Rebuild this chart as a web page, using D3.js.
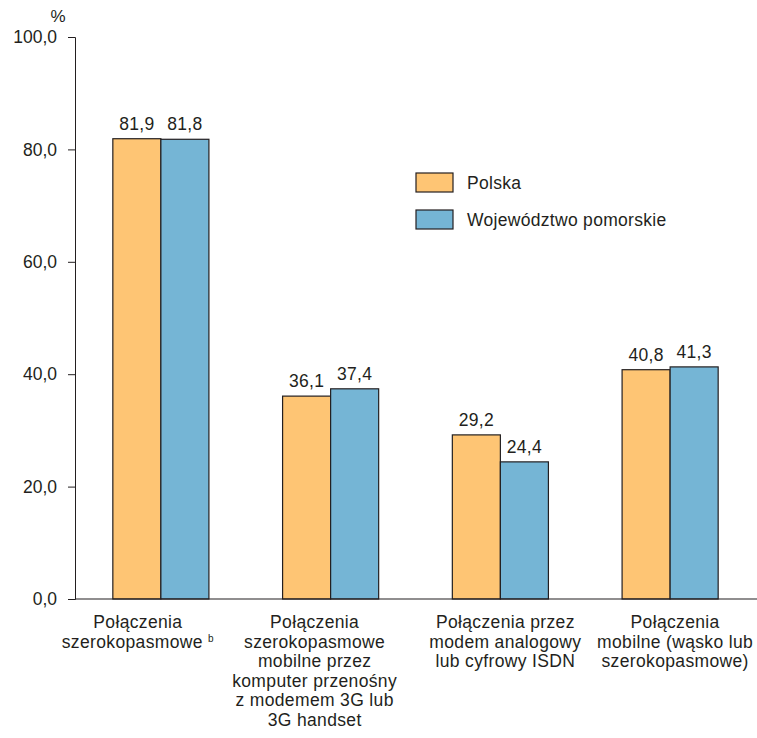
<!DOCTYPE html>
<html>
<head>
<meta charset="utf-8">
<script src="https://cdn.jsdelivr.net/npm/d3@7"></script>
<style>
  body { margin: 0; background: #fff; }
  text { font-family: "Liberation Sans", Arial, sans-serif; fill: #231f20; }
</style>
</head>
<body>
<svg width="757" height="738"></svg>
<script>
// categories (lines of each x label)
const categories = ["szerokopasmowe", "mobilne3G", "modem", "mobilne"];
const categoryLines = [
    ["Połączenia", "szerokopasmowe"],
    ["Połączenia", "szerokopasmowe", "mobilne przez", "komputer przenośny", "z modemem 3G lub", "3G handset"],
    ["Połączenia przez", "modem analogowy", "lub cyfrowy ISDN"],
    ["Połączenia", "mobilne (wąsko lub", "szerokopasmowe)"]
];
const seriesNames = ["Polska", "Województwo pomorskie"];
const polska = [81.9, 36.1, 29.2, 40.8];
const pomorskie = [81.8, 37.4, 24.4, 41.3];
const yTicks = [0, 20, 40, 60, 80, 100];

const colors = ["#fec574", "#75b5d5"];
const labelShift = [-23, -16, 5, 5]; // labels are not centred on the bars in the original

const svg = d3.select("svg");

const xScale = d3.scaleBand()
    .domain(categories)
    .range([76, 755])
    .paddingInner(0.434)
    .paddingOuter(0.217);

const xInner = d3.scaleBand()
    .domain(seriesNames)
    .range([0, xScale.bandwidth()]);

const yScale = d3.scaleLinear()
    .domain([0, 100])
    .range([599, 37]);

const fmt = v => d3.format(".1f")(v).replace(".", ",");

// y axis
const yAxis = svg.append("g")
    .attr("transform", "translate(75,0)")
    .call(d3.axisLeft(yScale).tickValues(yTicks).tickFormat(fmt).tickSizeOuter(0).tickSize(7).tickPadding(11));
yAxis.select(".domain").attr("stroke", "#231f20");
yAxis.selectAll(".tick line").attr("stroke", "#231f20");
yAxis.selectAll(".tick text")
    .style("font-family", "'Liberation Sans', Arial, sans-serif")
    .style("font-size", "17.5px")
    .attr("fill", "#231f20");

svg.append("text")
    .attr("x", 58)
    .attr("y", 22)
    .attr("text-anchor", "middle")
    .style("font-size", "17px")
    .text("%");

// bars
const rows = categories.map((c, i) => ({ cat: c, vals: [polska[i], pomorskie[i]] }));

const groups = svg.selectAll(".grp")
    .data(rows)
    .enter()
    .append("g")
    .attr("class", "grp")
    .attr("transform", d => "translate(" + xScale(d.cat) + ",0)");

groups.selectAll("rect")
    .data(d => d.vals.map((v, j) => ({ name: seriesNames[j], v: v, j: j })))
    .enter()
    .append("rect")
    .attr("x", d => xInner(d.name))
    .attr("y", d => yScale(d.v))
    .attr("width", xInner.bandwidth())
    .attr("height", d => yScale(0) - yScale(d.v))
    .attr("fill", d => colors[d.j])
    .attr("stroke", "#231f20")
    .attr("stroke-width", 1.2);

groups.selectAll(".val")
    .data(d => d.vals.map((v, j) => ({ name: seriesNames[j], v: v })))
    .enter()
    .append("text")
    .attr("class", "val")
    .attr("x", d => xInner(d.name) + xInner.bandwidth() / 2)
    .attr("y", d => yScale(d.v) - 9)
    .attr("text-anchor", "middle")
    .style("font-size", "17.5px")
    .style("letter-spacing", "0.3px")
    .text(d => fmt(d.v));

// x axis line
svg.append("line")
    .attr("x1", 75).attr("x2", 757)
    .attr("y1", yScale(0)).attr("y2", yScale(0))
    .attr("stroke", "#231f20")
    .attr("stroke-width", 1.2);

// category labels
categories.forEach((c, i) => {
    const t = svg.append("text")
        .attr("text-anchor", "middle")
        .style("font-size", "17.5px")
        .style("letter-spacing", "0.35px");
    const cx = xScale(c) + xScale.bandwidth() / 2 + labelShift[i];
    categoryLines[i].forEach((line, k) => {
        const ts = t.append("tspan")
            .attr("x", cx)
            .attr("y", 628 + k * 19.6)
            .text(line);
        if (i === 0 && k === 1) {
            ts.append("tspan").text(" ");
            ts.append("tspan")
                .attr("dy", -6)
                .style("font-size", "10px")
                .text("b");
        }
    });
});

// legend
const legend = svg.append("g").attr("transform", "translate(416,173)");
seriesNames.forEach((name, i) => {
    legend.append("rect")
        .attr("x", 0)
        .attr("y", i * 37)
        .attr("width", 37)
        .attr("height", 19)
        .attr("fill", colors[i])
        .attr("stroke", "#231f20")
        .attr("stroke-width", 1.2);
    legend.append("text")
        .attr("x", 51)
        .attr("y", i * 37 + 16)
        .style("font-size", "17.5px")
        .style("letter-spacing", "0.3px")
        .text(name);
});
</script>
</body>
</html>
